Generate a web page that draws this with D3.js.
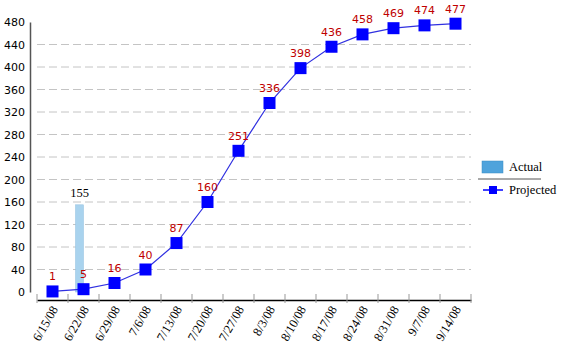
<!DOCTYPE html>
<html><head><meta charset="utf-8">
<script src="https://cdn.jsdelivr.net/npm/d3@7"></script>
<style>body{margin:0;background:#fff}</style>
</head><body>
<svg id="c" width="572" height="353"></svg>
<script>
const categories = ["6/15/08","6/22/08","6/29/08","7/6/08","7/13/08","7/20/08","7/27/08","8/3/08","8/10/08","8/17/08","8/24/08","8/31/08","9/7/08","9/14/08"];
const projected = [1,5,16,40,87,160,251,336,398,436,458,469,474,477];
const actual = [null,155,null,null,null,null,null,null,null,null,null,null,null,null];
const yTicks = [0,40,80,120,160,200,240,280,320,360,400,440,480];

const svg = d3.select("#c");
const x = d3.scaleBand().domain(categories).range([37,471]);
const y = d3.scaleLinear().domain([0,480]).range([292,22]);

// gridlines
svg.append("g").selectAll("line").data(yTicks.filter(t=>t>0 && t<480)).join("line")
  .attr("x1",37).attr("x2",471).attr("y1",d=>y(d)).attr("y2",d=>y(d))
  .attr("stroke","#c4c4c4").attr("stroke-dasharray","8,4").attr("stroke-width",1);

// y axis
const ya = svg.append("g").attr("transform","translate(30,0)")
  .call(d3.axisLeft(y).tickValues(yTicks).tickSize(0).tickPadding(5));
ya.select(".domain").attr("stroke","#555").attr("stroke-width",1.5);
ya.selectAll("text").attr("font-family","DejaVu Sans").attr("font-size",11).attr("fill","#000");

// x axis
const xa = svg.append("g").attr("transform","translate(0,300)")
  .call(d3.axisBottom(x).tickSize(0));
xa.select(".domain").attr("stroke","#000").attr("stroke-width",1.5);
xa.selectAll(".tick line").remove();
svg.append("g").selectAll("line").data(categories.concat(["_end"])).join("line")
  .attr("x1",(d,i)=>37+i*x.step()).attr("x2",(d,i)=>37+i*x.step())
  .attr("y1",294).attr("y2",303).attr("stroke","#999").attr("stroke-width",1);
xa.selectAll("text")
  .attr("font-family","Liberation Serif").attr("font-size",12.5).attr("fill","#000")
  .attr("text-anchor","end").attr("dy",null).attr("y",0)
  .attr("transform","translate(6,9) rotate(-60)");

// bars
const bw = 8;
svg.append("g").selectAll("rect").data(actual.map((v,i)=>({v,c:categories[i]})).filter(d=>d.v!=null)).join("rect")
  .attr("x",d=>x(d.c)+x.bandwidth()/2-bw).attr("width",bw)
  .attr("y",d=>y(d.v)).attr("height",d=>y(0)-y(d.v))
  .attr("fill","#a9d3ee").attr("stroke","#8fbfdf").attr("stroke-width",0.5);
svg.append("g").selectAll("text").data(actual.map((v,i)=>({v,c:categories[i]})).filter(d=>d.v!=null)).join("text")
  .attr("x",d=>x(d.c)+x.bandwidth()/2-bw/2).attr("y",d=>y(d.v)-8)
  .attr("text-anchor","middle").attr("font-family","Liberation Serif").attr("font-size",12.5)
  .text(d=>d.v);

// line
const pts = projected.map((v,i)=>({v,c:categories[i]}));
const cx = d=>x(d.c)+x.bandwidth()/2;
svg.append("path").datum(pts)
  .attr("d",d3.line().x(cx).y(d=>y(d.v)))
  .attr("fill","none").attr("stroke","#3030e0").attr("stroke-width",1.2);
svg.append("g").selectAll("rect").data(pts).join("rect")
  .attr("x",d=>cx(d)-6).attr("y",d=>y(d.v)-6).attr("width",12).attr("height",12)
  .attr("fill","#0000ff");
svg.append("g").selectAll("text").data(pts).join("text")
  .attr("x",cx).attr("y",d=>y(d.v)-11)
  .attr("text-anchor","middle").attr("font-family","DejaVu Sans").attr("font-size",11)
  .attr("fill","#c00000").text(d=>d.v);

// legend
const lg = svg.append("g");
lg.append("rect").attr("x",482).attr("y",161).attr("width",21).attr("height",12)
  .attr("fill","#4fa3dc").attr("stroke","#3a8cc4").attr("stroke-width",0.5);
lg.append("text").attr("x",509).attr("y",171).attr("font-family","Liberation Serif").attr("font-size",12.5).text("Actual");
lg.append("line").attr("x1",478).attr("x2",541).attr("y1",179).attr("y2",179).attr("stroke","#555").attr("stroke-width",1);
lg.append("line").attr("x1",483).attr("x2",503).attr("y1",190).attr("y2",190).attr("stroke","#0000ff").attr("stroke-width",1.5);
lg.append("rect").attr("x",489).attr("y",186).attr("width",8).attr("height",8).attr("fill","#0000ff");
lg.append("text").attr("x",509).attr("y",194).attr("font-family","Liberation Serif").attr("font-size",12.5).text("Projected");
</script>
</body></html>
